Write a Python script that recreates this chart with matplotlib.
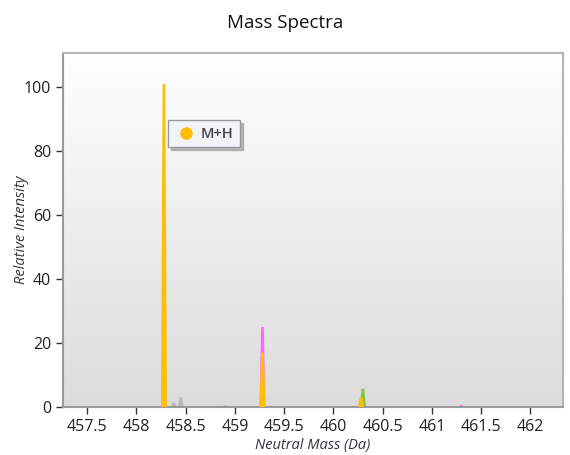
import numpy as np
import matplotlib.pyplot as plt
from matplotlib.lines import Line2D

plt.rcParams['font.family'] = ['Open Sans', 'DejaVu Sans']

# peaks: centre mass (Da), relative intensity, series
peak_mass = [458.45, 458.38, 458.90, 459.28, 460.30, 461.30, 458.28, 459.28, 460.28]
peak_int = [3.0, 1.5, 0.5, 25.0, 5.7, 0.6, 101.0, 17.0, 3.0]
peak_series = ['other', 'other', 'other', 'magenta', 'green', 'magenta', 'M+H', 'M+H', 'M+H']

series_colors = {
    'other': '#b8b8b8',
    'magenta': '#ff66ff',
    'green': '#84c441',
    'M+H': '#ffbf00',
}

xticks = [457.5, 458, 458.5, 459, 459.5, 460, 460.5, 461, 461.5, 462]
xticklabels = ['457.5', '458', '458.5', '459', '459.5', '460', '460.5', '461', '461.5', '462']
yticks = [0, 20, 40, 60, 80, 100]

fig = plt.figure(figsize=(5.7, 4.55), dpi=100)
ax = fig.add_axes([0.1105, 0.1055, 0.877, 0.779])

# gradient background (white top -> light gray bottom)
grad = np.linspace(1, 0, 256).reshape(-1, 1)
ax.imshow(grad, extent=[0, 1, 0, 1], transform=ax.transAxes, aspect='auto',
          cmap=plt.matplotlib.colors.LinearSegmentedColormap.from_list('bg', ['#dcdcdc', '#ffffff']),
          zorder=0)

hw = 0.03
for m, h, s in zip(peak_mass, peak_int, peak_series):
    xs = [m - hw, m - hw * 0.45, m + hw * 0.45, m + hw]
    ys = [0, h, h, 0]
    ax.fill(xs, ys, color=series_colors[s], lw=0, zorder=3 if s == 'M+H' else 2)

ax.set_xlim(457.255, 462.33)
ax.set_ylim(0, 110.8)
ax.set_xticks(xticks)
ax.set_xticklabels(xticklabels)
ax.set_yticks(yticks)
ax.tick_params(direction='out', length=5, width=1, color='#333333',
               labelsize=11.5, labelcolor='#222222')

for side in ['left', 'bottom']:
    ax.spines[side].set_color('#9a9a9a')
    ax.spines[side].set_linewidth(1.5)
for side in ['top', 'right']:
    ax.spines[side].set_color('#b4b4b4')
    ax.spines[side].set_linewidth(1.5)

ax.set_xlabel('Neutral Mass (Da)', fontsize=10.5, style='italic', color='#333340')
ax.set_ylabel('Relative Intensity', fontsize=10.5, style='italic', color='#333340')
ax.xaxis.set_label_coords(0.5, -0.088)
ax.yaxis.set_label_coords(-0.068, 0.5)
fig.suptitle('Mass Spectra', fontsize=13.5, y=0.97, color='#111111')

handle = Line2D([], [], marker='o', color=series_colors['M+H'], lw=0, markersize=8)
leg = ax.legend([handle], ['M+H'], loc='upper left', bbox_to_anchor=(0.195, 0.83),
                frameon=True, fancybox=False, shadow={'color': '#909090', 'alpha': 0.6},
                handletextpad=0.2, handlelength=1.6, borderpad=0.45,
                labelcolor='#444444', prop={'weight': 'semibold', 'size': 10.5})
leg.get_frame().set_edgecolor('#999999')
leg.get_frame().set_facecolor('#f2f3f7')
leg.set_zorder(5)

plt.savefig('out.png', dpi=100)
